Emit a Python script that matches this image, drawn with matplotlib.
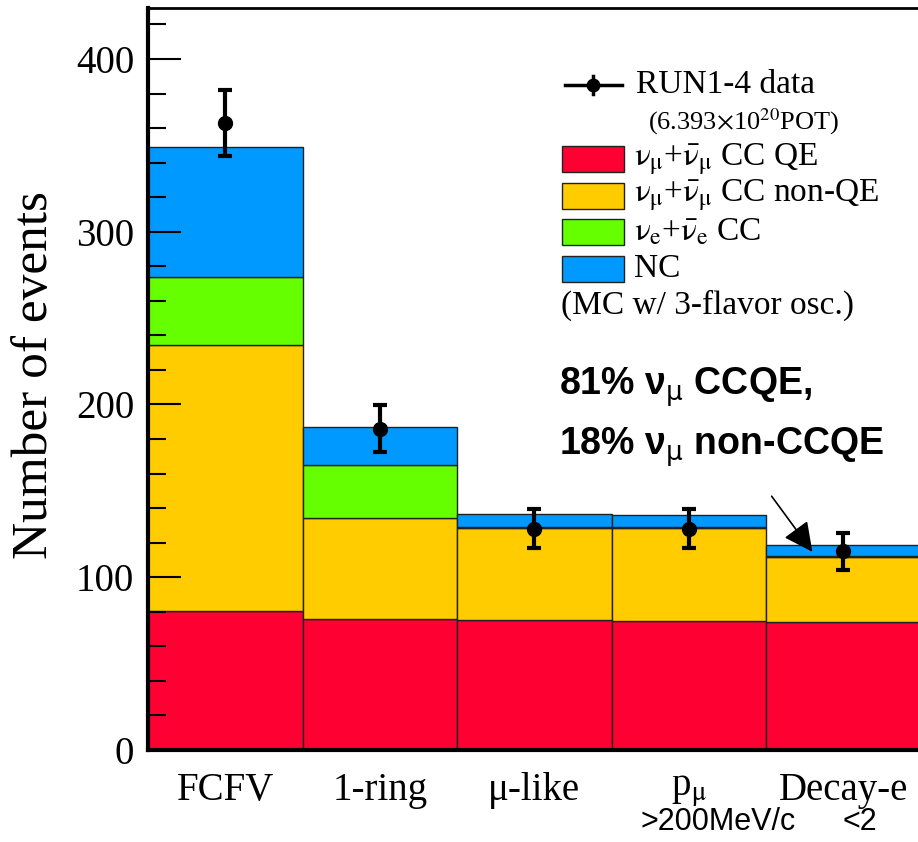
import numpy as np
import matplotlib
matplotlib.use('Agg')
import matplotlib.pyplot as plt
from matplotlib.patches import Rectangle
from matplotlib.lines import Line2D
from matplotlib.ticker import MultipleLocator

plt.rcParams['font.family'] = ['Liberation Serif', 'DejaVu Serif']
plt.rcParams['mathtext.fontset'] = 'stix'

# Данные: категории отбора и вклады MC
categories = ['FCFV', '1-ring', 'μ-like', r'p$_{\mathrm{\mu}}$', 'Decay-e']
sublabels = ['', '', '', '>200MeV/c', '<2']
sub_shift = [0, 0, 0, 0.19, 0.11]
ccqe = [80.5, 76.0, 75.0, 74.7, 74.0]
ccnonqe = [154.0, 58.5, 53.5, 53.8, 38.0]
nue_cc = [39.5, 30.7, 0.5, 0.3, 0.2]
nc = [75.0, 22.0, 7.7, 7.0, 6.3]
data = [363, 186, 128, 128, 115]
data_err = [19, 13.6, 11.3, 11.3, 10.7]

series = [ccqe, ccnonqe, nue_cc, nc]
colors = ['#ff0033', '#ffcc00', '#66ff00', '#0099ff']
labels = [r'$\mathrm{\nu_{\mu}}$+$\mathrm{\bar{\nu}_{\mu}}$ CC QE',
          r'$\mathrm{\nu_{\mu}}$+$\mathrm{\bar{\nu}_{\mu}}$ CC non-QE',
          r'$\mathrm{\nu_{e}}$+$\mathrm{\bar{\nu}_{e}}$ CC',
          'NC']

fig = plt.figure(figsize=(9.18, 8.42), dpi=100)
ax = fig.add_axes([148 / 918, 92 / 842, (920.5 - 148) / 918, 742 / 842])

x = np.arange(len(categories)) + 0.5
bottom = np.zeros(len(categories))
for vals, c in zip(series, colors):
    ax.bar(x, vals, width=1.0, bottom=bottom, color=c, edgecolor='#222222', linewidth=1.0)
    bottom += np.array(vals)

ax.errorbar(x, data, yerr=data_err, fmt='o', color='black', markersize=10,
            elinewidth=3, capsize=5, capthick=3, zorder=5)

ax.set_xlim(0, 5)
ax.set_ylim(0, 429.5)
ax.set_xticks([])
ax.yaxis.set_major_locator(MultipleLocator(100))
ax.yaxis.set_minor_locator(MultipleLocator(20))
ax.tick_params(axis='y', which='major', direction='in', length=24, width=1.5, labelsize=28, pad=10)
ax.tick_params(axis='y', which='minor', direction='in', length=13, width=1.5)
ax.spines['right'].set_visible(False)
ax.spines['left'].set_linewidth(3)
ax.spines['bottom'].set_linewidth(3)
ax.spines['top'].set_linewidth(2)
ax.set_ylabel('Number of events', fontsize=37)
ax.yaxis.set_label_coords(-0.116, 0.505)

# Подписи категорий под осью
trans = ax.get_xaxis_transform()
for xi, lab, sub, sh in zip(x, categories, sublabels, sub_shift):
    ax.text(xi, -0.055, lab, transform=trans, ha='center', va='center', fontsize=28)
    if sub:
        ax.text(xi + sh, -0.097, sub, transform=trans, ha='center', va='center',
                fontsize=22, family=['Liberation Sans', 'DejaVu Sans'])

# Легенда вручную
def fx(px):
    return px / 918

def fy(py):
    return 1 - py / 842

fig.add_artist(Line2D([fx(565), fx(622)], [fy(85), fy(85)], color='black', lw=2.5))
fig.add_artist(Line2D([fx(593)], [fy(85)], marker='o', color='black', markersize=9))
fig.add_artist(Line2D([fx(593), fx(593)], [fy(76), fy(94)], color='black', lw=2.5))
fig.text(fx(636), fy(85), 'RUN1-4 data', fontsize=24, va='center')
fig.text(fx(648), fy(122), r'(6.393$\times$10$^{20}$POT)', fontsize=19, va='center')
for i, (c, lab) in enumerate(zip(colors, labels)):
    yc = 159 + i * 36.5
    fig.add_artist(Rectangle((fx(562), fy(yc + 13)), fx(62), 26 / 842, facecolor=c,
                             edgecolor='#222222', lw=1.0))
    fig.text(fx(634), fy(yc), lab, fontsize=24, va='center')
fig.text(fx(561), fy(305), '(MC w/ 3-flavor osc.)', fontsize=24, va='center')

# Аннотация
fig.text(fx(559), fy(387), r'81% ν$_{\mathrm{\mu}}$ CCQE,', fontsize=27, fontweight='bold',
         family='Liberation Sans', math_fontfamily='dejavusans', va='center')
fig.text(fx(559), fy(447), r'18% ν$_{\mathrm{\mu}}$ non-CCQE', fontsize=27, fontweight='bold',
         family='Liberation Sans', math_fontfamily='dejavusans', va='center')
ax.annotate('', xy=((814 - 148) / 154.5, (750 - 554) / 1.7275),
            xytext=((770 - 148) / 154.5, (750 - 494) / 1.7275),
            arrowprops=dict(arrowstyle='-|>,head_length=0.9,head_width=0.45', mutation_scale=20,
                            color='black', lw=1.2))

plt.savefig('out.png', dpi=100)
